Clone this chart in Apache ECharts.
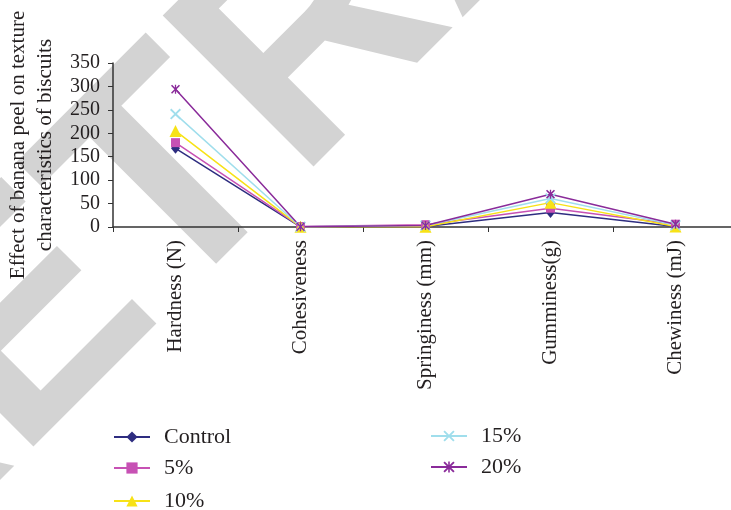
<!DOCTYPE html>
<html>
<head>
<meta charset="utf-8">
<script src="https://cdn.jsdelivr.net/npm/echarts@6/dist/echarts.min.js"></script>
<style>
  html, body { margin: 0; padding: 0; background: #fff; }
  #chart { width: 731px; height: 510px; }
</style>
</head>
<body>
<div id="chart"></div>
<script>
// texture attributes on the x axis
var categories = ['Hardness (N)', 'Cohesiveness', 'Springiness (mm)', 'Gumminess(g)', 'Chewiness (mJ)'];

// values
var control = [168, 0.5, 1, 31, 1];
var peel5 = [180, 1, 5, 40, 6];
var peel10 = [205, 0.3, 0.5, 52, 1];
var peel15 = [241, 0.5, 3, 61, 4];
var peel20 = [294, 0.5, 3, 70, 6];

var yTicks = [0, 50, 100, 150, 200, 250, 300, 350];

var FONT = 'Liberation Serif';
var INK = '#231f20';

// marker shapes for the two cross-style series
var crossPath = 'path://M0,1.2L1.2,0L5,3.8L8.8,0L10,1.2L6.2,5L10,8.8L8.8,10L5,6.2L1.2,10L0,8.8L3.8,5Z';
var starPath = 'path://M0,1.2L1.2,0L5,3.8L8.8,0L10,1.2L6.2,5L10,8.8L8.8,10L5,6.2L1.2,10L0,8.8L3.8,5Z' +
  'M4.3,0L5.7,0L5.7,10L4.3,10Z';

function makeSeries(name, data, color, symbol, size) {
  return {
    name: name,
    type: 'line',
    data: data,
    symbol: symbol,
    symbolSize: size,
    showAllSymbol: true,
    lineStyle: { color: color, width: 1.5 },
    itemStyle: { color: color },
    emphasis: { disabled: true },
    animation: false
  };
}

// one legend block per entry so the rows sit where the figure has them
function legendItem(name, left, top) {
  return {
    data: [name],
    left: left, top: top, padding: 0,
    itemWidth: 36, itemHeight: 14,
    textStyle: {
      fontFamily: FONT, fontSize: 22, color: INK,
      lineHeight: 22, padding: [0, 0, 0, 9]
    }
  };
}

var chart = echarts.init(document.getElementById('chart'));

chart.setOption({
  backgroundColor: '#fff',
  animation: false,
  graphic: [{
    // grey diagonal watermark behind the plot
    type: 'text',
    x: -200, y: 559,
    rotation: 45 * Math.PI / 180,
    z: -10,
    silent: true,
    style: {
      text: 'RETRACTED',
      x: 0, y: 0,
      align: 'left',
      verticalAlign: 'middle',
      font: 'bold 310px "Liberation Sans"',
      fill: '#d3d3d3'
    }
  }],
  grid: {
    left: 113, right: -7, top: 63, bottom: 283,
    containLabel: false, outerBoundsMode: 'none'
  },
  legend: [
    legendItem('Control', 113, 426),
    legendItem('5%', 113, 457),
    legendItem('10%', 113, 490),
    legendItem('15%', 430, 425),
    legendItem('20%', 430, 456)
  ],
  xAxis: {
    type: 'category',
    data: categories,
    boundaryGap: true,
    axisLine: { lineStyle: { color: '#333', width: 1.5 } },
    axisTick: { show: true, length: 5, lineStyle: { color: '#333' } },
    axisLabel: {
      rotate: 90, margin: 13,
      fontFamily: FONT, fontSize: 21, color: INK
    },
    splitLine: { show: false }
  },
  yAxis: {
    type: 'value',
    min: yTicks[0], max: yTicks[yTicks.length - 1], interval: 50,
    name: 'Effect of banana peel on texture\ncharacteristics of biscuits',
    nameLocation: 'middle',
    nameRotate: 90,
    nameGap: 53,
    nameTextStyle: { fontFamily: FONT, fontSize: 21, color: INK, lineHeight: 27 },
    axisLine: { show: true, lineStyle: { color: '#333', width: 1.5 } },
    axisTick: { show: true, length: 5, lineStyle: { color: '#333' } },
    axisLabel: { margin: 13, fontFamily: FONT, fontSize: 20, color: INK },
    splitLine: { show: false }
  },
  series: [
    makeSeries('Control', control, '#2e2d80', 'diamond', [9, 11]),
    makeSeries('5%', peel5, '#c751b4', 'rect', 9),
    makeSeries('10%', peel10, '#f7e217', 'triangle', 12),
    makeSeries('15%', peel15, '#a0deec', crossPath, 11),
    makeSeries('20%', peel20, '#8a2b9a', starPath, 9)
  ]
});
</script>
</body>
</html>
